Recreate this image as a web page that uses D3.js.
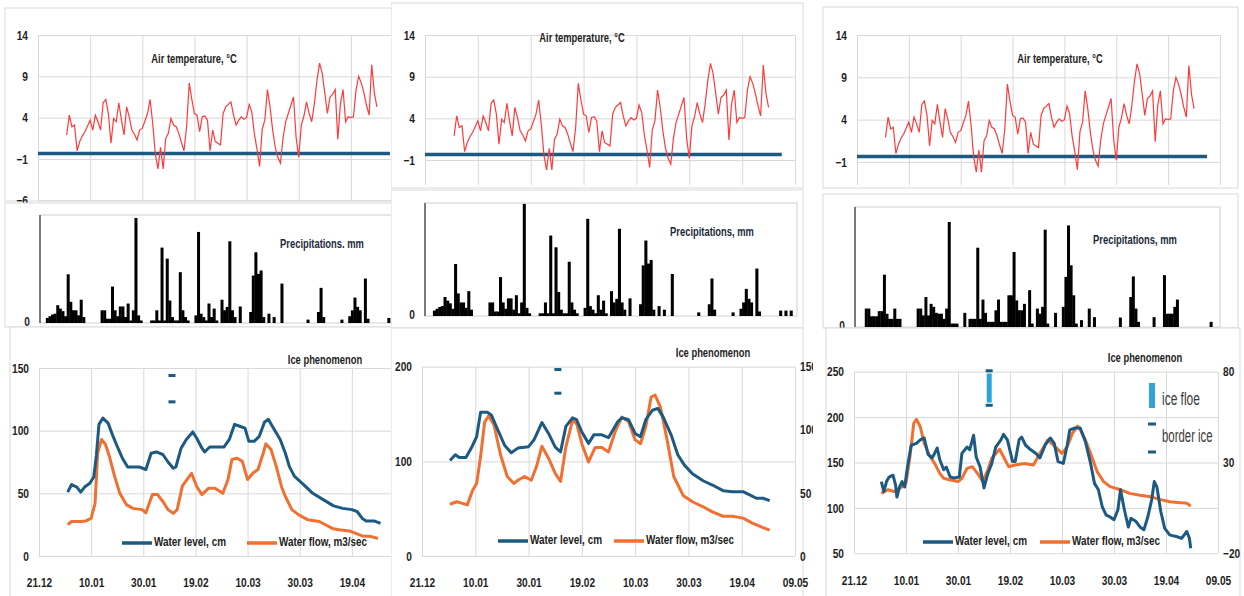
<!DOCTYPE html>
<html>
<head>
<meta charset="utf-8">
<script src="https://cdn.jsdelivr.net/npm/d3@7"></script>
<style>
  body { margin: 0; background: #fff; }
  svg { display: block; font-family: "Liberation Sans", Arial, sans-serif; }
</style>
</head>
<body>
<svg id="chart" width="1244" height="596"></svg>
<script>
// ---- data ----
const dateTicks = [0, 20, 40, 60, 80, 100, 120, 140]
const dateLabels = ["21.12", "10.01", "30.01", "19.02", "10.03", "30.03", "19.04", "09.05"]
const tempTicks = [-6, -1, 4, 9, 14]

// daily air temperature, first value = day 11 (01.01)
const tempStart = 11
const airTemp = [
  1.9, 4.3, 2.9, 3.1, 0.0, 1.1, 1.8, 2.3, 3.0, 3.7,
  2.5, 4.3, 3.5, 2.5, 5.8, 6.2, 4.5, 0.9, 3.9, 3.5,
  5.8, 3.7, 1.9, 5.3, 4.1, 2.5, 2.0, 1.3, 2.5, 2.7,
  3.6, 4.5, 6.2, 3.3, -0.4, -2.2, 0.4, -2.2, 1.5, 2.1,
  3.9, 3.1, 2.9, 2.1, 1.0, 0.0, 2.9, 8.2, 6.2, 4.5,
  4.3, 2.3, 4.1, 4.2, 3.7, 0.0, 2.5, 1.1, 0.9, 0.7,
  4.5, 5.3, 5.6, 5.9, 4.3, 3.1, 3.7, 4.1, 3.8, 4.0,
  5.6, 4.7, 2.0, 0.2, -1.9, 2.6, 3.7, 7.4, 5.3, 2.5,
  0.4, -0.8, -1.5, 1.6, 3.5, 4.5, 5.5, 6.5, 1.6, -0.8,
  3.1, 4.2, 5.9, 4.5, 3.5, 5.7, 8.5, 10.6, 9.4, 7.0,
  4.5, 6.5, 6.8, 7.4, 1.4, 5.7, 7.4, 3.5, 4.1, 4.0,
  4.1, 7.4, 9.0, 8.2, 7.0, 5.5, 4.3, 10.4, 7.0, 5.3
]
const freezeLine = [[0, -0.35], [135, -0.35]]

// daily precipitation, mm, from day 0
const precipMain = [
  0, 0, 0, 1.2, 1.6, 2.0, 2.2, 4.2, 3.4, 2.8, 1.6,
  11.5, 5.0, 3.0, 3.0, 1.8, 5.5, 1.4, 0, 0, 0, 0, 0, 0,
  3.0, 3.0, 1.0, 1.0, 8.6, 3.0, 1.6, 3.9, 3.9, 1.4, 4.6, 0.6, 3.0, 24.8, 1.8, 0.6,
  0, 0, 0, 0.6, 0.6, 3.0, 0.6, 17.8, 0.6, 15.2, 5.3, 1.4, 0.6, 0.6, 12.0, 3.0, 1.4, 0.6,
  0, 0, 1.8, 21.5, 2.2, 1.4, 0.6, 4.6, 1.4, 3.4, 0.6, 0, 5.5, 3.0, 3.8, 19.3, 3.0, 1.4,
  0, 3.9, 0, 0, 0,
  2.6, 11.2, 16.7, 11.6, 12.4, 1.4, 0, 2.2, 0, 1.4, 0, 0, 9.3,
  0, 0, 0, 0, 0, 0, 0, 0, 0, 0.8, 0, 0, 0, 2.6, 8.3, 1.4,
  0, 0, 0, 0, 0, 0, 0.8, 0, 0, 1.6, 3.0, 6.0, 3.8, 3.0, 0, 10.5, 1.0,
  0, 0, 0, 0, 0, 0, 0, 1.2, 0, 1.2, 0, 1.2
]
const precipEast = [
  0, 0, 0, 4.3, 4.3, 2.5, 2.5, 2.5, 3.7, 3.7, 12.2, 3.1, 1.9, 1.9, 4.3, 1.9, 1.9,
  0, 0, 0, 0, 0, 0, 4.3, 4.3, 2.7, 7.0, 2.7, 5.4, 4.7, 3.3, 3.1, 3.1, 1.9, 4.3, 24.5,
  0.8, 0.8, 0.8, 0, 0, 3.3, 0, 1.9, 1.9, 1.9, 18.5, 1.9, 6.4, 3.3, 1.2, 1.2, 1.2,
  3.9, 6.4, 1.2, 1.2, 1.2, 7.4, 7.4, 17.5, 6.2, 3.9, 3.9, 5.4, 0, 8.6, 0.8, 0,
  4.3, 3.1, 4.7, 22.7, 0.8, 0, 0, 3.3, 0, 0, 4.7, 11.7, 23.7, 14.4, 7.4, 0.8, 0,
  1.6, 0, 0, 4.3, 0, 2.3, 0, 0, 0, 0, 0, 0, 0, 0, 0, 2.2, 0, 0, 0, 7.0, 11.8, 4.3, 1.2,
  0, 0, 0, 0, 0, 2.3, 0, 0, 0, 12.1, 3.1, 3.1, 3.1, 4.7, 6.4,
  0, 0, 0, 0, 0, 0, 0, 0, 0, 0, 0, 0, 1.2
]

// [day, value] water level (cm) and water flow (m3/sec)
const level1 = [[11, 51], [12.5, 57], [14.5, 55], [16, 51], [17.5, 55], [19.5, 58], [21, 63], [22, 80], [23, 105], [24.5, 110], [26.5, 106], [28.5, 95], [30.5, 85], [32, 78], [34, 71], [36, 71], [38.5, 71], [41, 69], [43, 82], [45, 83], [47.5, 81], [49.5, 75], [51.5, 70], [52.5, 71], [54.5, 86], [56.5, 93], [59, 99], [60.5, 94], [62.5, 86], [63.5, 83], [65.5, 87], [71, 87], [73, 93], [75, 105], [77, 103.5], [79, 102], [80.5, 91.5], [82.5, 91.5], [84.5, 95.5], [86.5, 107], [88, 109], [89.5, 103.5], [92.5, 93], [94.5, 82], [96, 71.5], [98, 63.5], [101.5, 57], [105, 50], [109, 45], [113, 40], [116.5, 38], [120, 37], [122, 35.5], [124, 30], [125.5, 28], [128.5, 28], [131, 26]]
const flow1 = [[11, 25], [12.5, 27.5], [16, 27.5], [18, 28], [20, 30], [21.5, 42], [22.5, 82], [24, 93], [25.5, 89], [27, 79.5], [29, 63.5], [31, 50], [33.5, 41], [36, 38], [39.5, 37], [41, 34.5], [43.5, 49], [45.5, 49], [47.5, 43.5], [49.5, 37], [51.5, 34], [53, 37], [55, 56], [58.5, 66], [60.5, 55.5], [62.5, 49], [65, 54], [67.5, 54], [70.5, 50], [72.5, 61], [74, 77], [76, 78], [78, 75.5], [80, 61], [82, 66], [84, 69], [86, 82], [87, 89.5], [89, 85], [91, 71.5], [93, 55.5], [94.5, 47.5], [97, 37], [99.5, 33], [103, 29], [107.5, 27.5], [112.5, 22], [115, 21], [119, 20], [121.5, 18], [124, 16], [127.5, 15.5], [130, 14]]
const level2 = [[10.5, 101], [12.5, 107], [14, 104], [16.5, 104], [18.5, 114], [20.5, 126], [22, 152], [24.5, 152], [26, 149], [28.5, 133], [31, 117], [33.5, 109], [36, 114], [40, 115.5], [42, 122.5], [45, 141], [47.5, 129.5], [50, 115], [52, 110], [54, 137], [56.5, 146], [58, 144], [60, 131], [62.5, 119], [64.5, 128], [67.5, 128], [70, 125], [73.5, 142], [75, 146], [77.5, 144], [80, 129.5], [82, 126], [84, 144], [86.5, 154], [88.5, 156], [90.5, 147], [93.5, 128], [96, 107], [98.5, 96], [101.5, 87], [105.5, 79.5], [109, 75], [113, 69], [116.5, 68], [120.5, 68], [123, 64.5], [125.5, 61], [128, 61], [130.5, 58.5]]
const flow2 = [[10.5, 41], [13, 43], [15.5, 41.5], [17, 40.5], [19, 52], [20.5, 57.5], [22, 79], [23.5, 106], [25, 111], [27, 104], [29.5, 80], [32, 63], [34.5, 57.5], [36, 60], [38.5, 63], [41, 60], [43, 71], [45, 87], [47.5, 77.5], [50, 65.5], [52, 59], [54, 86.5], [56.5, 107.5], [58, 105], [60, 89], [62.5, 74.5], [65, 86], [67.5, 86], [70, 82.5], [72.5, 98.5], [75, 110], [77.5, 106.5], [80, 92], [82, 89], [84, 102.5], [86, 126], [87.5, 127.5], [89.5, 118], [92, 92], [94.5, 63], [98, 48], [101.5, 43], [105.5, 39], [109, 35], [113, 31.5], [116.5, 31.5], [120.5, 30], [124, 26], [128, 22.5], [130.5, 20.5]]
const level3 = [[10.5, 129], [11.5, 118], [12.5, 129], [13.5, 134], [15, 136], [16, 125], [16.5, 112], [17.5, 123], [18.5, 129], [19.5, 123], [20.5, 144], [22, 169], [24, 171], [25.5, 175], [27, 177], [28.5, 159], [30, 155], [31, 160], [32, 166], [33, 153], [34.5, 142], [35.5, 145], [37, 134], [38.5, 133], [40.5, 134], [41.5, 160], [43.5, 167], [44.5, 164], [46, 180], [47, 156], [48.5, 145], [50, 122], [51.5, 138], [53, 149], [54.5, 167], [56.5, 175], [57.5, 181], [59, 175], [61, 151], [62, 151], [63.5, 175], [64.5, 178], [66, 169], [68, 164], [70, 160], [71.5, 155], [73.5, 169], [75.5, 177], [77, 171], [78.5, 151], [80.5, 149], [82, 169], [83, 186], [85, 188], [87, 188], [89, 173], [91, 149], [92.5, 127], [94, 120], [95.5, 101], [97, 92], [98.5, 90], [100, 87], [101.5, 98], [102.5, 120], [104, 98], [105.5, 79], [106.5, 88.5], [108.5, 85], [110, 79], [111.5, 76], [113, 90], [114.5, 109], [115.5, 129], [116.5, 123], [118, 96], [119.5, 77.5], [121.5, 70], [124, 68.5], [126, 66.5], [128, 74], [129, 66.5], [129.5, 55.5]]
const flow3 = [[10.5, 13], [13, 15], [15.5, 14], [18.5, 16.7], [20, 18.5], [21.5, 33], [23, 51.6], [24, 53.8], [25.5, 49.7], [27, 40.6], [29, 34], [31, 29.5], [33, 24], [34.5, 21.3], [37, 20.4], [40, 19.5], [41.5, 21.3], [43.5, 26.8], [45.5, 27.7], [47.5, 24], [49.5, 19.5], [51.5, 26], [53, 32.3], [56, 37.3], [57.5, 33.2], [59.5, 27.7], [62, 28.6], [65.5, 29.5], [69, 28.6], [71.5, 35], [74.5, 42.4], [76, 40.6], [78, 37.8], [80, 35], [82, 38.7], [84, 46], [86, 50], [87, 48.3], [89, 42.4], [91, 35], [93.5, 25], [96, 19.5], [98.5, 16.7], [102.5, 15], [106, 13], [110, 12], [114, 11.2], [117.5, 9.7], [121.5, 8.4], [125.5, 7.9], [128, 7.5], [129.5, 6.1]]

// ice phenomena: [day, level] border ice marks, [day, from, to] ice floe
const iceBorder1 = [[51, 144], [51, 123]]
const iceBorder2 = [[51, 197], [51, 172]]
const iceBorder3 = [[52, 251], [52, 213]]
const iceFloe3 = [[52, 216, 248]]

// ---- layout of the three screenshots ----
const columns = [
  {
    clip: [0, 391],
    panels: [[5, 8, 395, 193], [5, 203, 395, 124], [10, 327, 395, 272]],
    temp: { x0: 38, x1: 403, yLow: 200.3, yHigh: 35, bottom: 200, titleX: 194, titleY: 60 },
    precip: { data: precipMain, max: 25.5, left: 40, right: 400, top: 215, bottom: 323, titleX: 322, titleY: 245, title: "Precipitations. mm" },
    water: {
      x0: 39, x1: 404, top: 368, bottom: 556, level: level1, flow: flow1,
      levelDomain: [0, 150], flowDomain: [0, 150], leftTicks: [0, 50, 100, 150], rightTicks: [],
      titleX: 325, titleY: 361, legendY: 543, legendX: [122, 247], border: iceBorder1, floe: []
    }
  },
  {
    clip: [391, 813],
    panels: [[391, 3, 412, 185], [391, 190, 412, 138], [391, 328, 412, 272]],
    temp: { x0: 425, x1: 795, yLow: 201.7, yHigh: 35, bottom: 185, titleX: 582, titleY: 39 },
    precip: { data: precipMain, max: 25, left: 425, right: 797, top: 203, bottom: 316, titleX: 712, titleY: 233, title: "Precipitations, mm" },
    water: {
      x0: 422, x1: 795, top: 366.7, bottom: 556, level: level2, flow: flow2,
      levelDomain: [0, 200], flowDomain: [0, 150], leftTicks: [0, 100, 200], rightTicks: [0, 50, 100, 150],
      titleX: 713, titleY: 354, legendY: 541, legendX: [498, 614], border: iceBorder2, floe: []
    }
  },
  {
    clip: [813, 1244],
    panels: [[823, 7, 415, 181], [823, 194, 415, 134], [826, 328, 414, 270]],
    temp: { x0: 857, x1: 1220, yLow: 204.3, yHigh: 35, bottom: 185, titleX: 1060, titleY: 60 },
    precip: { data: precipEast, max: 28, left: 855, right: 1220, top: 207, bottom: 327, titleX: 1135, titleY: 241, title: "Precipitations, mm" },
    water: {
      x0: 854, x1: 1218, top: 371.7, bottom: 553.3, level: level3, flow: flow3,
      levelDomain: [50, 250], flowDomain: [-20, 80], leftTicks: [50, 100, 150, 200, 250], rightTicks: [-20, 30, 80],
      titleX: 1145, titleY: 359, legendY: 542, legendX: [923, 1040], border: iceBorder3, floe: iceFloe3
    }
  }
]

const grid = "#d9d9d9"
const levelColor = "#1d5a82"
const flowColor = "#f07032"
const floeColor = "#2fa3da"
const svg = d3.select("#chart")

// the original uses a narrow font; squeeze each text to mimic it
function condense(sel, f) {
  sel.each(function () {
    const w = this.getComputedTextLength()
    if (w > 0) d3.select(this).attr("textLength", w * f).attr("lengthAdjust", "spacingAndGlyphs")
  })
}

function cleanAxis(a) {
  a.attr("font-family", null).attr("font-size", null)
  a.select(".domain").remove()
  a.selectAll("line").attr("stroke", grid)
  a.selectAll("text").attr("fill", "#1e1e1e").attr("font-size", 13).attr("font-weight", "bold")
    .call(condense, 0.78)
}

function label(g, x, y, txt, size) {
  return g.append("text").attr("x", x).attr("y", y).attr("text-anchor", "middle")
    .attr("dominant-baseline", "middle").attr("font-size", size).attr("font-weight", "bold")
    .attr("fill", "#1e1e1e").text(txt).call(condense, 0.78)
}

function panel(g, p) {
  g.append("rect").attr("x", p[0]).attr("y", p[1]).attr("width", p[2]).attr("height", p[3])
    .attr("fill", "#fff").attr("stroke", grid)
}

function drawTemp(g, t) {
  const x = d3.scaleLinear().domain([0, 140]).range([t.x0, t.x1])
  const y = d3.scaleLinear().domain([-6, 14]).range([t.yLow, t.yHigh])
  g.append("g").attr("transform", `translate(${t.x0},0)`)
    .call(d3.axisLeft(y).tickValues(tempTicks.filter(v => y(v) <= t.bottom + 1))
      .tickSize(-(t.x1 - t.x0)).tickPadding(10))
    .call(cleanAxis)
  g.append("g").attr("transform", `translate(0,${t.bottom})`)
    .call(d3.axisBottom(x).tickValues(dateTicks).tickSize(-(t.bottom - t.yHigh)).tickFormat(""))
    .call(cleanAxis)
  g.append("path").datum(freezeLine)
    .attr("fill", "none").attr("stroke", levelColor).attr("stroke-width", 3.5)
    .attr("d", d3.line().x(d => x(d[0])).y(d => y(d[1])))
  g.append("path").datum(airTemp)
    .attr("fill", "none").attr("stroke", "#ff3a3a").attr("stroke-width", 1.2)
    .attr("d", d3.line().x((d, i) => x(tempStart + i)).y(d => y(d)))
  label(g, t.titleX, t.titleY, "Air temperature, °C", 12)
  return x
}

function drawPrecip(g, p, x) {
  const y = d3.scaleLinear().domain([0, p.max]).range([p.bottom, p.top])
  g.append("rect").attr("x", p.left).attr("y", p.top)
    .attr("width", p.right - p.left).attr("height", p.bottom - p.top)
    .attr("fill", "none").attr("stroke", "#cfcfcf")
  const bw = x(1) - x(0) + 0.4
  g.append("g").selectAll("rect")
    .data(p.data.map((v, i) => [i, v]).filter(d => d[1] > 0))
    .join("rect")
    .attr("x", d => x(d[0]))
    .attr("width", bw)
    .attr("y", d => y(d[1]))
    .attr("height", d => y(0) - y(d[1]))
    .attr("fill", "#000")
  g.append("line").attr("x1", p.left).attr("x2", p.left).attr("y1", p.top).attr("y2", p.bottom)
    .attr("stroke", "#333").attr("stroke-width", 1.2)
  g.append("text").attr("x", p.left - 10).attr("y", y(0)).attr("text-anchor", "end")
    .attr("dominant-baseline", "middle").attr("font-size", 13).attr("font-weight", "bold")
    .attr("fill", "#1e1e1e").text("0").call(condense, 0.78)
  label(g, p.titleX, p.titleY, p.title, 12).attr("fill", "#1b2a3a")
}

function drawWater(g, w, clipRight) {
  const x = d3.scaleLinear().domain([0, 140]).range([w.x0, w.x1])
  const yL = d3.scaleLinear().domain(w.levelDomain).range([w.bottom, w.top])
  const yR = d3.scaleLinear().domain(w.flowDomain).range([w.bottom, w.top])

  g.append("g").attr("transform", `translate(${w.x0},0)`)
    .call(d3.axisLeft(yL).tickValues(w.leftTicks).tickSize(-(w.x1 - w.x0)).tickPadding(10))
    .call(cleanAxis)
  g.append("g").attr("transform", `translate(0,${w.bottom})`)
    .call(d3.axisBottom(x).tickValues(dateTicks).tickSize(-(w.bottom - w.top))
      .tickPadding(22).tickFormat((d, i) => x(d) + 12 < clipRight ? dateLabels[i] : ""))
    .call(cleanAxis)
  if (w.rightTicks.length) {
    g.append("g").attr("transform", `translate(${w.x1},0)`)
      .call(d3.axisRight(yR).tickValues(w.rightTicks).tickSize(0).tickPadding(5))
      .call(cleanAxis)
  }

  // ice phenomena
  g.append("g").selectAll("rect").data(w.floe).join("rect")
    .attr("x", d => x(d[0]) - 2.5).attr("width", 5)
    .attr("y", d => yL(d[2])).attr("height", d => yL(d[1]) - yL(d[2]))
    .attr("fill", floeColor)
  g.append("g").selectAll("rect").data(w.border).join("rect")
    .attr("x", d => x(d[0]) - 3.5).attr("width", 7)
    .attr("y", d => yL(d[1]) - 1.5).attr("height", 3)
    .attr("fill", levelColor)

  const line = y => d3.line().x(d => x(d[0])).y(d => y(d[1]))
  g.append("path").datum(w.flow).attr("fill", "none").attr("stroke", flowColor)
    .attr("stroke-width", 3).attr("stroke-linejoin", "round").attr("d", line(yR))
  g.append("path").datum(w.level).attr("fill", "none").attr("stroke", levelColor)
    .attr("stroke-width", 3).attr("stroke-linejoin", "round").attr("d", line(yL))

  label(g, w.titleX, w.titleY, "Ice phenomenon", 12)

  // legend
  const items = [["Water level, cm", levelColor, 72], ["Water flow, m3/sec", flowColor, 88]]
  items.forEach((it, i) => {
    const lx = w.legendX[i]
    g.append("line").attr("x1", lx).attr("x2", lx + 30).attr("y1", w.legendY).attr("y2", w.legendY)
      .attr("stroke", it[1]).attr("stroke-width", 3.5)
    g.append("text").attr("x", lx + 32).attr("y", w.legendY).attr("dominant-baseline", "middle")
      .attr("font-size", 13).attr("fill", "#222").attr("font-weight", "bold")
      .attr("textLength", it[2]).attr("lengthAdjust", "spacingAndGlyphs").text(it[0])
  })
}

columns.forEach((c, k) => {
  svg.append("clipPath").attr("id", "clip" + k).append("rect")
    .attr("x", c.clip[0]).attr("y", 0).attr("width", c.clip[1] - c.clip[0]).attr("height", 596)
  const g = svg.append("g").attr("clip-path", `url(#clip${k})`)
  panel(g, c.panels[0])
  const x = drawTemp(g, c.temp)
  panel(g, c.panels[1])
  drawPrecip(g, c.precip, x)
  panel(g, c.panels[2])
  drawWater(g, c.water, c.clip[1])
})

// ice legend of the third screenshot (narrow lettering made with a horizontal squeeze)
const lg = svg.append("g")
lg.append("rect").attr("x", 1149).attr("y", 383).attr("width", 6).attr("height", 25).attr("fill", floeColor)
lg.selectAll(".bd").data([424, 452]).join("rect").attr("class", "bd")
  .attr("x", 1148).attr("y", d => d - 1.5).attr("width", 8).attr("height", 3).attr("fill", levelColor)
;[["ice floe", 400, 0.63], ["border ice", 437, 0.6]].forEach(t => {
  lg.append("g").attr("transform", `translate(1162,${t[1]}) scale(${t[2]},1)`)
    .append("text").attr("dominant-baseline", "middle")
    .attr("font-size", 19).attr("fill", "#3a3a3a").text(t[0])
})
</script>
</body>
</html>
